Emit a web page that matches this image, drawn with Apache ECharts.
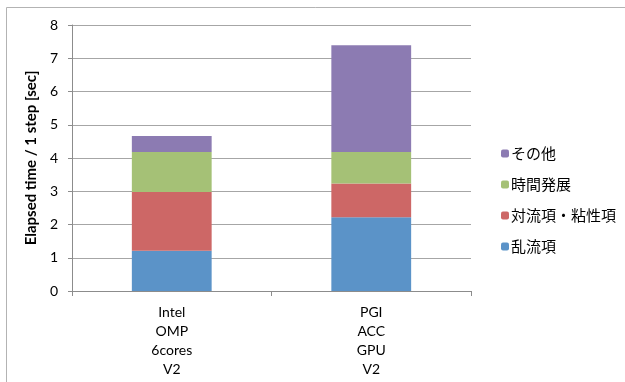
<!DOCTYPE html>
<html>
<head>
<meta charset="utf-8">
<script src="https://cdn.jsdelivr.net/npm/echarts@6/dist/echarts.min.js"></script>
<style>
  html, body { margin: 0; padding: 0; background: #fff; }
  #chart { width: 625px; height: 382px; }
</style>
</head>
<body>
<div id="chart"></div>
<script>
// Platforms compared (multi-line category labels)
const categories = ['Intel\nOMP\n6cores\nV2', 'PGI\nACC\nGPU\nV2'];

// Elapsed time per step broken down by component [sec]
const turbulence = [1.21, 2.22];     // 乱流項
const advectionViscous = [1.77, 1.01]; // 対流項・粘性項
const timeIntegration = [1.20, 0.95];  // 時間発展
const others = [0.48, 3.21];           // その他

const seriesNames = ['乱流項', '対流項・粘性項', '時間発展', 'その他'];
const seriesData = [turbulence, advectionViscous, timeIntegration, others];
const colors = ['#5b93c8', '#cd6766', '#a5c176', '#8c7bb2'];

const yTicks = [0, 1, 2, 3, 4, 5, 6, 7, 8];

const baseFont = 'Lato, "Open Sans", sans-serif';
const cjkFont = '"Noto Sans CJK JP", sans-serif';

const chart = echarts.init(document.getElementById('chart'), null, { renderer: 'canvas' });

chart.setOption({
  animation: false,
  backgroundColor: '#fff',
  graphic: [
    { type: 'line', shape: { x1: 6.5, y1: 7.5, x2: 625, y2: 7.5 }, style: { stroke: '#b3b3b3', lineWidth: 1 } },
    { type: 'line', shape: { x1: 6.5, y1: 7.5, x2: 6.5, y2: 382 }, style: { stroke: '#b3b3b3', lineWidth: 1 } }
  ],
  grid: { left: 72, right: 154, top: 25, bottom: 91 },
  legend: {
    orient: 'vertical',
    left: 496,
    top: 141,
    itemWidth: 8,
    itemHeight: 8,
    itemGap: 16,
    data: seriesNames.slice().reverse(),
    textStyle: { fontFamily: cjkFont, fontSize: 15, color: '#000', padding: [0, 0, 0, -3] }
  },
  xAxis: {
    type: 'category',
    data: categories,
    axisLine: { lineStyle: { color: '#8c8c8c', width: 1 } },
    axisTick: { show: true, length: 5, lineStyle: { color: '#8c8c8c' } },
    axisLabel: { color: '#000', fontFamily: baseFont, fontSize: 14, lineHeight: 19, margin: 12 }
  },
  yAxis: {
    type: 'value',
    min: yTicks[0],
    max: yTicks[yTicks.length - 1],
    interval: 1,
    name: 'Elapsed time / 1 step [sec]',
    nameLocation: 'middle',
    nameGap: 28,
    nameTextStyle: { fontFamily: baseFont, fontSize: 15, fontWeight: 'bold', color: '#000' },
    axisLine: { show: true, lineStyle: { color: '#8c8c8c', width: 1 } },
    axisTick: { show: true, length: 4, lineStyle: { color: '#8c8c8c' } },
    axisLabel: { color: '#000', fontFamily: baseFont, fontSize: 14, margin: 14 },
    splitLine: { lineStyle: { color: '#a6a6a6', width: 1 } }
  },
  series: seriesNames.map((name, i) => ({
    name,
    type: 'bar',
    stack: 'total',
    barWidth: '40%',
    data: seriesData[i],
    itemStyle: { color: colors[i] }
  }))
});
</script>
</body>
</html>
